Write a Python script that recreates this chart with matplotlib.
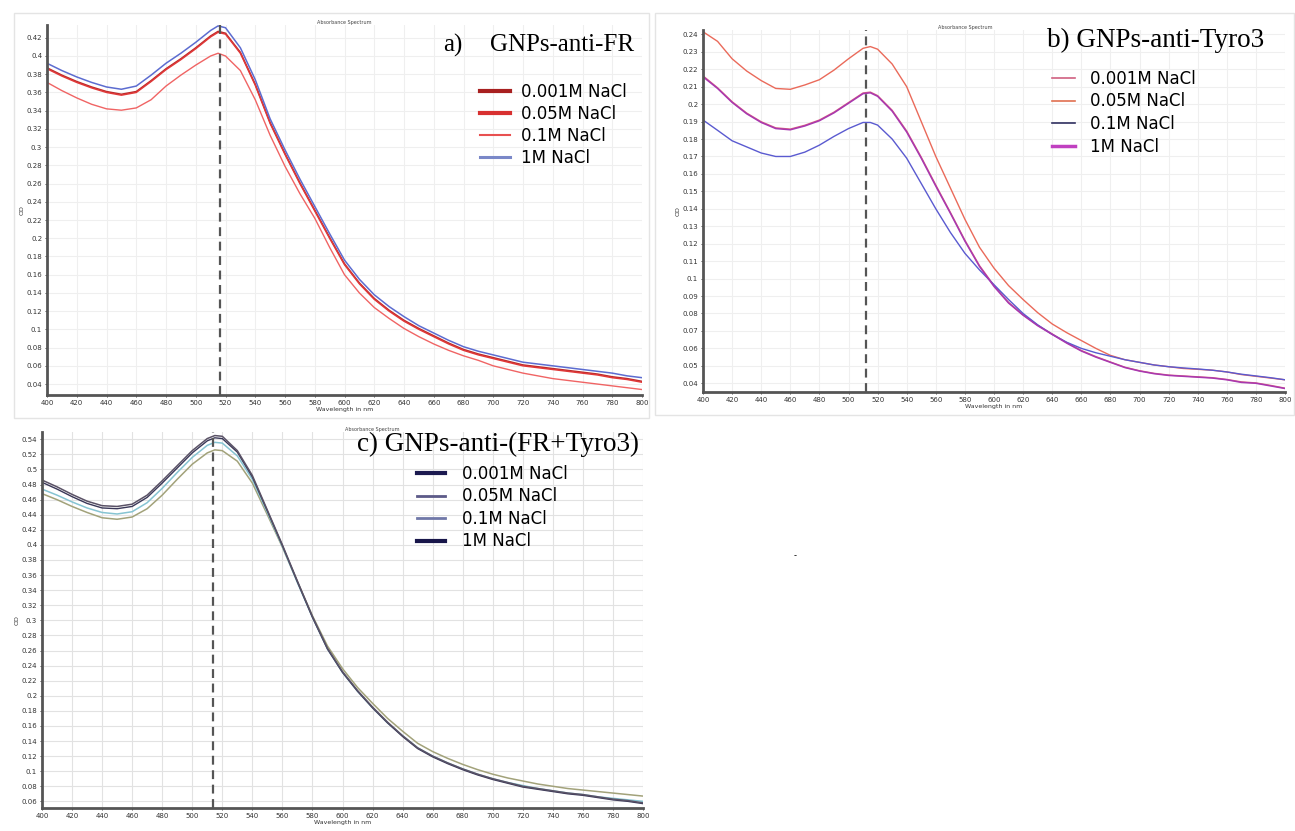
import matplotlib
matplotlib.use("Agg")
import matplotlib.pyplot as plt
from matplotlib.lines import Line2D
from matplotlib.patches import Rectangle

# ---------------- data ----------------
wavelength = [400, 410, 420, 430, 440, 450, 460, 470, 480, 490, 500, 510, 515,
              520, 530, 540, 550, 560, 570, 580, 590, 600, 610, 620, 630, 640,
              650, 660, 670, 680, 690, 700, 710, 720, 730, 740, 750, 760, 770,
              780, 790, 800]

legend_labels = ["0.001M NaCl", "0.05M NaCl", "0.1M NaCl", "1M NaCl"]

# Panel a) GNPs-anti-FR
a_0001 = [.387, .379, .372, .366, .361, .358, .361, .373, .386, .397, .409, .422, .427,
          .425, .404, .369, .327, .293, .261, .231, .201, .172, .151, .134, .121, .110,
          .101, .093, .085, .078, .073, .069, .065, .061, .059, .057, .055, .053, .051,
          .048, .046, .043]
a_005 = [.386, .378, .371, .365, .360, .357, .360, .372, .385, .396, .408, .421, .426,
         .424, .403, .368, .326, .292, .260, .230, .200, .171, .150, .133, .120, .109,
         .100, .092, .084, .077, .072, .068, .064, .060, .058, .056, .054, .052, .050,
         .047, .045, .042]
a_01 = [.371, .362, .354, .347, .342, .3405, .343, .352, .367, .379, .390, .400, .403,
        .400, .384, .352, .313, .279, .249, .222, .190, .160, .140, .124, .112, .101,
        .092, .084, .077, .071, .066, .060, .056, .052, .049, .046, .044, .042, .040,
        .038, .036, .034]
a_1 = [.392, .384, .377, .371, .366, .3635, .367, .379, .392, .403, .415, .428, .433,
       .431, .409, .374, .331, .297, .265, .235, .205, .176, .155, .138, .125, .114,
       .104, .096, .088, .081, .076, .072, .068, .064, .062, .060, .058, .056, .054,
       .052, .049, .047]

# Panel b) GNPs-anti-Tyro3
b_0001 = [.2162, .2094, .2014, .1949, .1899, .1864, .1857, .1879, .1909, .1954, .2009, .2064, .2069,
          .2049, .1965, .1846, .1696, .1536, .1380, .1220, .1075, .0960, .0864, .0793, .0733, .0683,
          .0633, .0588, .0553, .0522, .0492, .0472, .0457, .0447, .0442, .0437, .0432, .0422, .0408,
          .0402, .0388, .0372]
b_005 = [.2415, .2360, .2260, .2190, .2135, .2090, .2085, .2110, .2140, .2195, .2260, .2320, .2330,
         .2315, .2230, .2100, .1900, .1700, .1520, .1340, .1180, .1060, .0960, .0880, .0805, .0740,
         .0690, .0645, .0600, .0560, .0535, .0520, .0505, .0495, .0485, .0480, .0475, .0465, .0450,
         .0440, .0430, .0420]
b_01 = [.1909, .1850, .1790, .1755, .1720, .1700, .1700, .1725, .1765, .1815, .1860, .1895, .1895,
        .1880, .1800, .1690, .1545, .1400, .1265, .1145, .1050, .0965, .0880, .0800, .0735, .0680,
        .0635, .0600, .0575, .0555, .0535, .0520, .0505, .0495, .0488, .0482, .0475, .0465, .0452,
        .0442, .0432, .0420]
b_1 = [.2157, .2090, .2010, .1945, .1895, .1860, .1853, .1875, .1905, .1950, .2005, .2060, .2065,
       .2045, .1960, .1840, .1690, .1530, .1375, .1215, .1070, .0955, .0860, .0790, .0730, .0680,
       .0630, .0585, .0550, .0520, .0490, .0470, .0455, .0445, .0440, .0435, .0430, .0420, .0405,
       .0400, .0385, .0370]

# Panel c) GNPs-anti-(FR+Tyro3)
c_0001 = [.486, .477, .467, .458, .452, .451, .454, .466, .485, .505, .525, .541, .545,
          .544, .525, .492, .446, .400, .352, .305, .263, .232, .207, .185, .165, .147,
          .131, .120, .111, .103, .096, .090, .085, .080, .077, .074, .071, .069, .066,
          .063, .061, .058]
c_005 = [.474, .466, .457, .449, .443, .441, .444, .456, .475, .496, .516, .532, .536,
         .535, .518, .487, .443, .398, .350, .304, .262, .231, .206, .184, .164, .147,
         .131, .120, .111, .103, .096, .090, .085, .081, .077, .074, .071, .069, .066,
         .064, .062, .060]
c_01 = [.468, .460, .451, .443, .436, .434, .437, .448, .466, .487, .507, .522, .526,
        .525, .511, .482, .440, .397, .351, .306, .266, .236, .211, .190, .170, .153,
        .137, .126, .117, .109, .102, .096, .091, .087, .083, .080, .077, .075, .073,
        .071, .069, .067]
c_1 = [.483, .474, .464, .455, .449, .448, .451, .463, .482, .502, .522, .538, .542,
       .541, .523, .490, .445, .399, .351, .304, .262, .231, .206, .184, .164, .146,
       .130, .119, .110, .102, .095, .089, .084, .079, .076, .073, .070, .068, .065,
       .062, .060, .057]

x_ticks = list(range(400, 801, 20))

# ---------------- figure ----------------
W, H = 1295, 831
fig = plt.figure(figsize=(W / 100, H / 100), dpi=100)
fig.patch.set_facecolor("white")


def fx(px):
    return px / W


def fy(py):
    return 1 - py / H


def axes_px(l, t, r, b):
    return fig.add_axes([fx(l), fy(b), fx(r) - fx(l), fy(t) - fy(b)])


# panel frames
for (l, t, r, b) in [(14, 13, 649, 418), (655, 13, 1294, 415)]:
    fig.patches.append(Rectangle((fx(l), fy(b)), fx(r) - fx(l), fy(t) - fy(b),
                                 transform=fig.transFigure, fill=False,
                                 edgecolor="#e4e4e4", lw=1.0))


def style(ax, ylim, yticks, gridc, dash_x):
    ax.set_xlim(400, 800)
    ax.set_ylim(*ylim)
    ax.set_xticks(x_ticks)
    ax.set_xticklabels([str(v) for v in x_ticks])
    ax.set_yticks(yticks)
    ax.set_yticklabels(["%g" % round(v, 2) for v in yticks])
    ax.tick_params(labelsize=5, colors="#333333", length=1.5, width=0.6, pad=2)
    for s in ["top", "right"]:
        ax.spines[s].set_visible(False)
    for s in ["left", "bottom"]:
        ax.spines[s].set_color("#555555")
        ax.spines[s].set_linewidth(2.0)
    ax.grid(True, color=gridc, lw=0.8)
    ax.set_axisbelow(True)
    ax.axvline(dash_x, color="#555555", lw=1.6, ls=(0, (4, 2.5)), zorder=5)
    ax.set_xlabel("Wavelength in nm", fontsize=4.5, labelpad=1, color="#333333")
    ax.set_ylabel("OD", fontsize=4.5, labelpad=1, color="#333333")


def yt(lo, hi, step):
    n = int(round((hi - lo) / step))
    return [lo + i * step for i in range(n + 1)]


# ---- panel a ----
axa = axes_px(47, 25, 642, 395)
axa.plot(wavelength, a_0001, color="#b82a2a", lw=1.1)
axa.plot(wavelength, a_005, color="#e03838", lw=1.1)
axa.plot(wavelength, a_01, color="#f06464", lw=1.0)
axa.plot(wavelength, a_1, color="#5c6cd0", lw=1.1)
style(axa, (0.028, 0.434), yt(0.04, 0.42, 0.02), "#efefef", 516)
axa.set_title("Absorbance Spectrum", fontsize=3.5, pad=1, color="#444444")
fig.text(fx(443), fy(45), "a)", fontsize=18, family="Liberation Serif", va="center", ha="left")
fig.text(fx(490), fy(45), "GNPs-anti-FR", fontsize=18, family="Liberation Serif", va="center", ha="left")
ha = [Line2D([], [], color="#a82020", lw=3.0), Line2D([], [], color="#d83030", lw=3.0),
      Line2D([], [], color="#e85050", lw=1.5), Line2D([], [], color="#7a88c8", lw=2.2)]
axa.legend(ha, legend_labels, loc="upper left", bbox_to_anchor=(fx(480), fy(83)),
           bbox_transform=fig.transFigure, frameon=False, fontsize=12, borderpad=0,
           borderaxespad=0, handlelength=1.8, handletextpad=0.65, labelspacing=0.24)

# ---- panel b ----
axb = axes_px(703, 30, 1285, 392)
axb.plot(wavelength, b_0001, color="#d86080", lw=1.0)
axb.plot(wavelength, b_005, color="#ea6a5a", lw=1.0)
axb.plot(wavelength, b_01, color="#5a5ad0", lw=1.0)
axb.plot(wavelength, b_1, color="#a838b0", lw=1.1)
style(axb, (0.035, 0.2425), yt(0.04, 0.24, 0.01), "#efefef", 512)
axb.set_title("Absorbance Spectrum", fontsize=3.5, pad=1, color="#444444", x=0.45)
fig.text(fx(1047), fy(40), "b) GNPs-anti-Tyro3", fontsize=19.5, family="Liberation Serif",
         va="center", ha="left")
hb = [Line2D([], [], color="#d06080", lw=1.2), Line2D([], [], color="#e07050", lw=1.2),
      Line2D([], [], color="#303060", lw=1.2), Line2D([], [], color="#c040c0", lw=2.5)]
axb.legend(hb, legend_labels, loc="upper left", bbox_to_anchor=(fx(1052), fy(70)),
           bbox_transform=fig.transFigure, frameon=False, fontsize=12, borderpad=0,
           borderaxespad=0, handlelength=1.4, handletextpad=0.9, labelspacing=0.27)

# ---- panel c ----
axc = axes_px(42, 432, 643, 808)
axc.plot(wavelength, c_01, color="#a2a27a", lw=1.1)
axc.plot(wavelength, c_005, color="#86c4d2", lw=1.1)
axc.plot(wavelength, c_1, color="#3a3858", lw=1.0)
axc.plot(wavelength, c_0001, color="#5a5266", lw=1.1)
style(axc, (0.0512, 0.5497), yt(0.06, 0.54, 0.02), "#e2e2e2", 514)
axc.set_title("Absorbance Spectrum", fontsize=3.5, pad=1, color="#444444", x=0.55)
fig.text(fx(357), fy(444), "c) GNPs-anti-(FR+Tyro3)", fontsize=19.5, family="Liberation Serif",
         va="center", ha="left")
hc = [Line2D([], [], color="#1c1a50", lw=3.0), Line2D([], [], color="#5c5a88", lw=2.0),
      Line2D([], [], color="#7078a8", lw=2.0), Line2D([], [], color="#18164a", lw=3.0)]
axc.legend(hc, legend_labels, loc="upper left", bbox_to_anchor=(fx(417), fy(465)),
           bbox_transform=fig.transFigure, frameon=False, fontsize=12, borderpad=0,
           borderaxespad=0, handlelength=1.7, handletextpad=1.0, labelspacing=0.27)

fig.text(fx(795), fy(556), "-", fontsize=6, ha="center", va="center")

fig.savefig("out.png", dpi=100, facecolor="white")
